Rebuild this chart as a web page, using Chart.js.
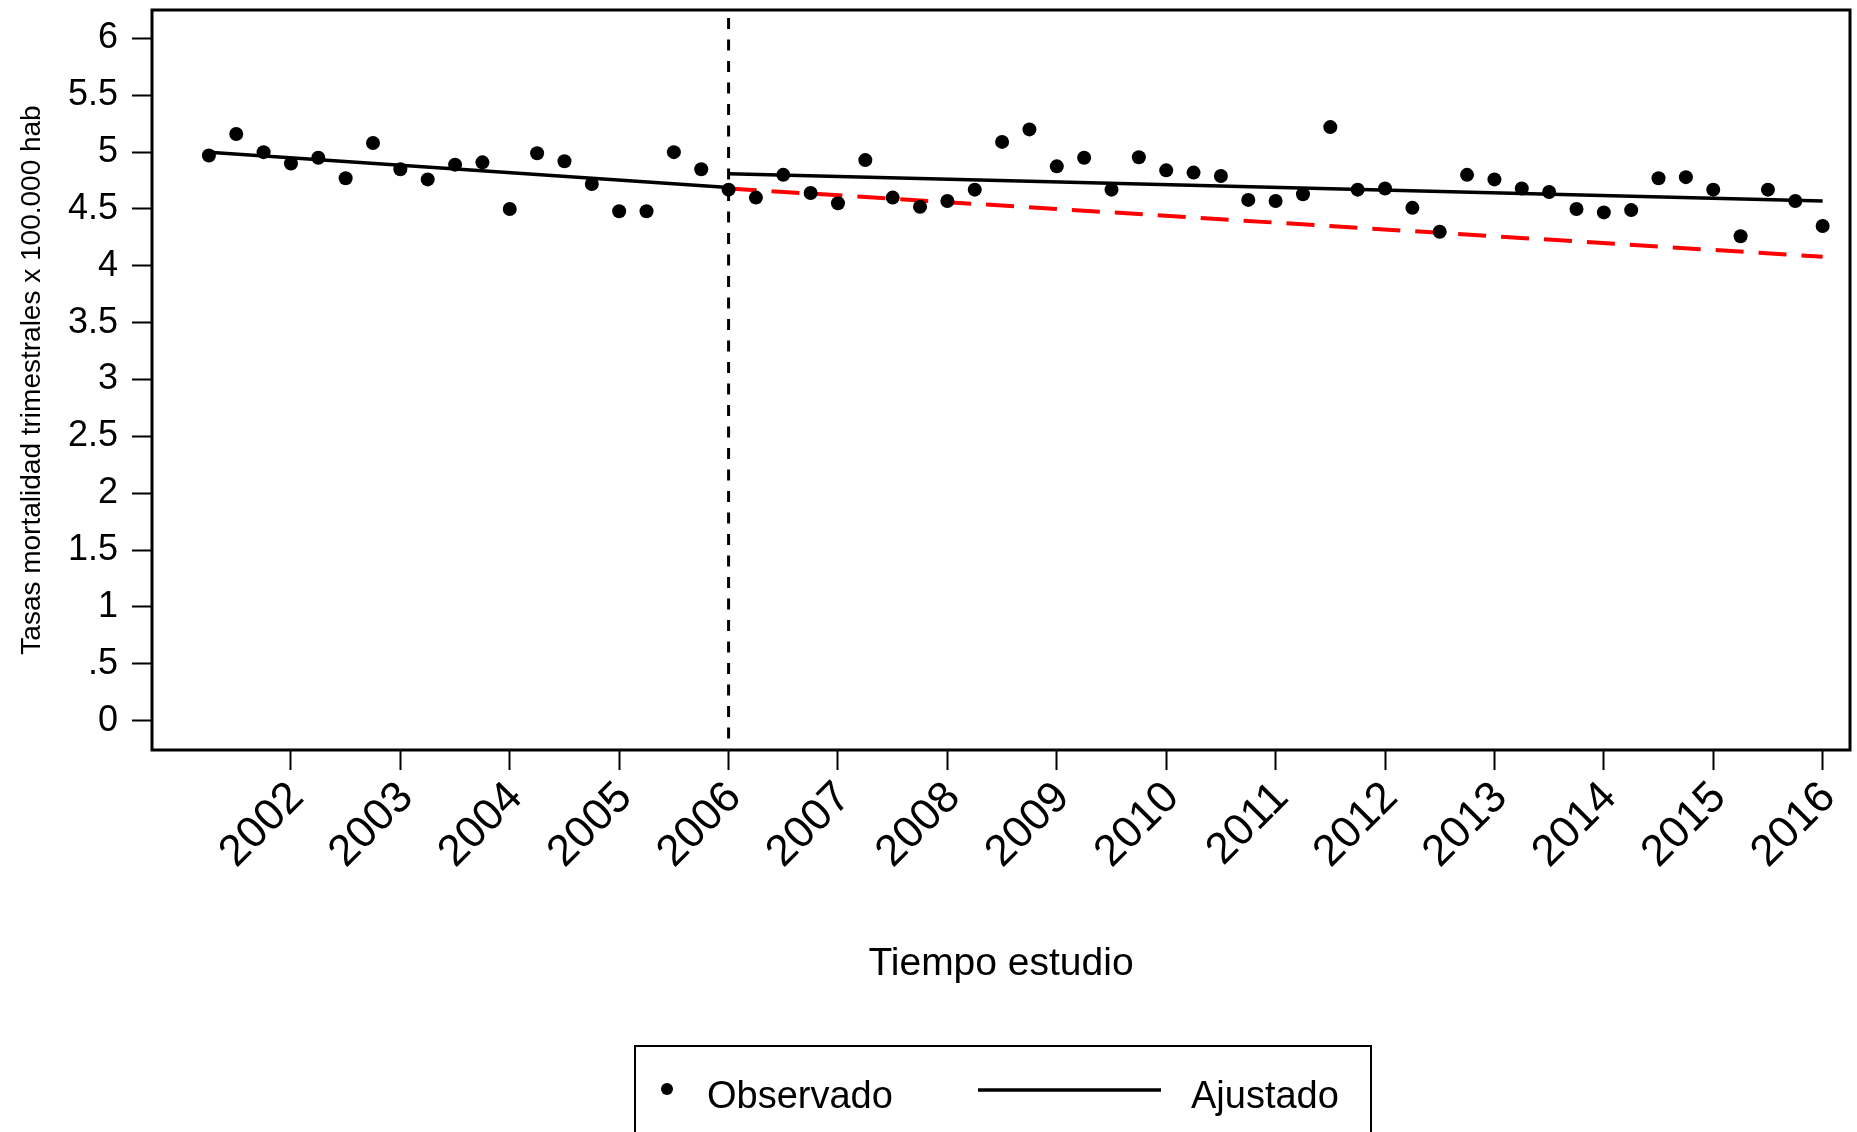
<!DOCTYPE html>
<html><head><meta charset="utf-8">
<script src="https://cdn.jsdelivr.net/npm/chart.js@4.4.0/dist/chart.umd.min.js"></script>
<style>html,body{margin:0;padding:0;background:#fff;overflow:hidden}#wrap{width:1857px;height:1132px;position:relative}</style>
</head><body><div id="wrap"><canvas id="c" width="1857" height="1132"></canvas></div>
<script>
const quarterTimes = [2001.25,2001.5,2001.75,2002,2002.25,2002.5,2002.75,2003,2003.25,2003.5,2003.75,2004,2004.25,2004.5,2004.75,2005,2005.25,2005.5,2005.75,2006,2006.25,2006.5,2006.75,2007,2007.25,2007.5,2007.75,2008,2008.25,2008.5,2008.75,2009,2009.25,2009.5,2009.75,2010,2010.25,2010.5,2010.75,2011,2011.25,2011.5,2011.75,2012,2012.25,2012.5,2012.75,2013,2013.25,2013.5,2013.75,2014,2014.25,2014.5,2014.75,2015,2015.25,2015.5,2015.75,2016];
const observedRates = [4.97,5.16,5.00,4.90,4.95,4.77,5.08,4.85,4.76,4.89,4.91,4.50,4.99,4.92,4.72,4.48,4.48,5.00,4.85,4.67,4.60,4.80,4.64,4.55,4.93,4.60,4.52,4.57,4.67,5.09,5.20,4.875,4.95,4.67,4.955,4.84,4.82,4.79,4.58,4.57,4.63,5.22,4.67,4.68,4.51,4.30,4.80,4.76,4.68,4.65,4.50,4.47,4.49,4.77,4.78,4.67,4.26,4.67,4.57,4.35];
const preFitTimes = [2001.25, 2006.0];
const preFitRates = [5.00, 4.69];
const postFitTimes = [2006.0, 2016.0];
const postFitRates = [4.81, 4.57];
const counterTimes = [2006.0, 2016.0];
const counterRates = [4.68, 4.08];
const interventionTime = 2006.0;
const xTickYears = [2002,2003,2004,2005,2006,2007,2008,2009,2010,2011,2012,2013,2014,2015,2016];
const yTickValues = [0,0.5,1,1.5,2,2.5,3,3.5,4,4.5,5,5.5,6];
const yTickLabels = ["0",".5","1","1.5","2","2.5","3","3.5","4","4.5","5","5.5","6"];
const seriesNames = ["Observado","Ajustado"];
const xTitle = "Tiempo estudio";
const yTitle = "Tasas mortalidad trimestrales x 100.000 hab";

const FONT = '"Liberation Sans", Arial, Helvetica, sans-serif';
const pts = (xs, ys) => xs.map((x, i) => ({x: x, y: ys[i]}));
const noPad = s => { s.paddingTop = 0; s.paddingBottom = 0; s.paddingLeft = 0; s.paddingRight = 0; };

const framePlugin = {
  id: 'frame',
  beforeDatasetsDraw(chart) {
    const {ctx, chartArea: a, scales} = chart;
    const xp = scales.x.getPixelForValue(interventionTime);
    ctx.save();
    ctx.strokeStyle = '#000';
    ctx.lineWidth = 3;
    ctx.setLineDash([11, 10.5]);
    ctx.beginPath();
    ctx.moveTo(xp, a.top + 8);
    ctx.lineTo(xp, a.bottom);
    ctx.stroke();
    ctx.restore();
  },
  afterDraw(chart) {
    const {ctx, chartArea: a} = chart;
    ctx.save();
    ctx.strokeStyle = '#000';
    ctx.lineWidth = 3;
    ctx.strokeRect(a.left, a.top, a.right - a.left, a.bottom - a.top);
    ctx.lineWidth = 2;
    ctx.strokeRect(635, 1046, 736, 200);
    const ds0 = chart.data.datasets[0];
    const ds1 = chart.data.datasets[1];
    ctx.fillStyle = ds0.backgroundColor;
    ctx.beginPath();
    ctx.arc(667, 1089, 6, 0, Math.PI * 2);
    ctx.fill();
    ctx.strokeStyle = ds1.borderColor;
    ctx.lineWidth = ds1.borderWidth;
    ctx.beginPath();
    ctx.moveTo(978, 1090);
    ctx.lineTo(1161, 1090);
    ctx.stroke();
    ctx.fillStyle = '#000';
    ctx.font = '38px ' + FONT;
    ctx.textBaseline = 'alphabetic';
    ctx.textAlign = 'left';
    ctx.fillText(seriesNames[0], 707, 1108);
    ctx.fillText(seriesNames[1], 1191, 1108);
    ctx.restore();
  }
};

new Chart(document.getElementById('c'), {
  type: 'line',
  data: {
    datasets: [
      {label: seriesNames[0], data: pts(quarterTimes, observedRates), showLine: false,
       pointRadius: 7, pointHoverRadius: 7, backgroundColor: '#000', borderColor: '#000', pointBorderWidth: 0, order: 0},
      {label: seriesNames[1], data: pts(preFitTimes, preFitRates), borderColor: '#000', borderWidth: 3.5,
       pointRadius: 0, fill: false, order: 1},
      {label: seriesNames[1] + ' post', data: pts(postFitTimes, postFitRates), borderColor: '#000', borderWidth: 3.5,
       pointRadius: 0, fill: false, order: 1},
      {label: 'Contrafactual', data: pts(counterTimes, counterRates), borderColor: '#ff0000', borderWidth: 4,
       borderDash: [28, 15], pointRadius: 0, fill: false, order: 2}
    ]
  },
  options: {
    responsive: false,
    devicePixelRatio: 1,
    animation: false,
    events: [],
    layout: {padding: {top: 10, right: 4, left: 0, bottom: 0}},
    plugins: {legend: {display: false}, tooltip: {enabled: false}},
    scales: {
      x: {
        type: 'linear', min: 2000.73, max: 2016.25,
        afterBuildTicks: s => { s.ticks = xTickYears.map(v => ({value: v})); },
        afterFit: s => { s.height = 382; noPad(s); },
        ticks: {callback: v => String(v), color: '#000', font: {family: FONT, size: 44},
                minRotation: 45, maxRotation: 45, autoSkip: false, padding: 2, labelOffset: 6},
        grid: {display: true, drawOnChartArea: false, drawTicks: true, tickLength: 20, tickColor: '#000', tickWidth: 2},
        border: {display: false},
        title: {display: true, text: xTitle, color: '#000', font: {family: FONT, size: 39}, padding: {top: 0, bottom: 144}}
      },
      y: {
        type: 'linear', min: -0.258, max: 6.25,
        afterBuildTicks: s => { s.ticks = yTickValues.map(v => ({value: v})); },
        afterFit: s => { s.width = 152; noPad(s); },
        ticks: {callback: v => yTickLabels[yTickValues.indexOf(v)], color: '#000', font: {family: FONT, size: 36}, padding: 14},
        grid: {display: true, drawOnChartArea: false, drawTicks: true, tickLength: 20, tickColor: '#000', tickWidth: 2},
        border: {display: false},
        title: {display: true, text: yTitle, color: '#000', font: {family: FONT, size: 28}, padding: {top: 15, bottom: 0}}
      }
    }
  },
  plugins: [framePlugin]
});
</script></body></html>
